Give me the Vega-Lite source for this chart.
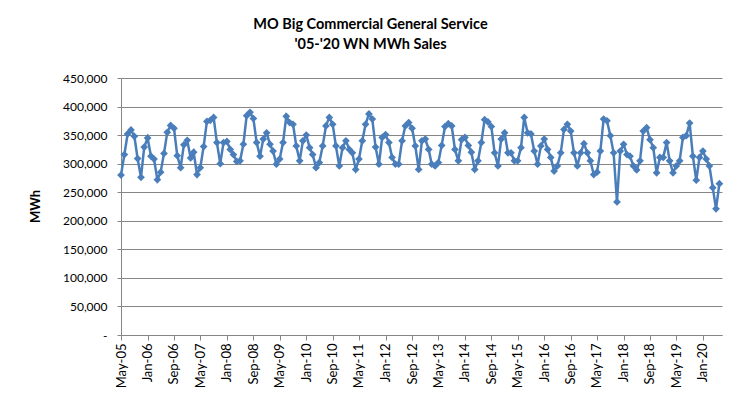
{
 "$schema": "https://vega.github.io/schema/vega-lite/v6.json",
 "autosize": "none",
 "width": 601,
 "height": 257,
 "padding": {"left": 121, "top": 78, "right": 8, "bottom": 67},
 "background": "white",
 "title": {"text": ["MO Big Commercial General Service", "'05-'20 WN MWh Sales"], "anchor": "middle", "dx": -51, "offset": 20, "font": "Lato", "fontSize": 14.5, "fontWeight": "bold", "color": "#000000", "lineHeight": 20},
 "config": {"view": {"stroke": null}, "font": "Lato"},
 "data": {"values": [
  {"date":"2005-05-01","mwh":280000},{"date":"2005-06-01","mwh":316000},{"date":"2005-07-01","mwh":352000},{"date":"2005-08-01","mwh":359000},{"date":"2005-09-01","mwh":348000},{"date":"2005-10-01","mwh":309000},{"date":"2005-11-01","mwh":276000},{"date":"2005-12-01","mwh":329000},
  {"date":"2006-01-01","mwh":345000},{"date":"2006-02-01","mwh":313000},{"date":"2006-03-01","mwh":308000},{"date":"2006-04-01","mwh":272000},{"date":"2006-05-01","mwh":285000},{"date":"2006-06-01","mwh":318000},{"date":"2006-07-01","mwh":355000},{"date":"2006-08-01","mwh":367000},{"date":"2006-09-01","mwh":362000},{"date":"2006-10-01","mwh":314000},{"date":"2006-11-01","mwh":293000},{"date":"2006-12-01","mwh":333000},
  {"date":"2007-01-01","mwh":341000},{"date":"2007-02-01","mwh":310000},{"date":"2007-03-01","mwh":320000},{"date":"2007-04-01","mwh":281000},{"date":"2007-05-01","mwh":293000},{"date":"2007-06-01","mwh":330000},{"date":"2007-07-01","mwh":374000},{"date":"2007-08-01","mwh":376000},{"date":"2007-09-01","mwh":381000},{"date":"2007-10-01","mwh":337000},{"date":"2007-11-01","mwh":300000},{"date":"2007-12-01","mwh":337000},
  {"date":"2008-01-01","mwh":339000},{"date":"2008-02-01","mwh":325000},{"date":"2008-03-01","mwh":316000},{"date":"2008-04-01","mwh":304000},{"date":"2008-05-01","mwh":305000},{"date":"2008-06-01","mwh":334000},{"date":"2008-07-01","mwh":384000},{"date":"2008-08-01","mwh":390000},{"date":"2008-09-01","mwh":379000},{"date":"2008-10-01","mwh":337000},{"date":"2008-11-01","mwh":313000},{"date":"2008-12-01","mwh":343000},
  {"date":"2009-01-01","mwh":354000},{"date":"2009-02-01","mwh":334000},{"date":"2009-03-01","mwh":322000},{"date":"2009-04-01","mwh":299000},{"date":"2009-05-01","mwh":308000},{"date":"2009-06-01","mwh":337000},{"date":"2009-07-01","mwh":383000},{"date":"2009-08-01","mwh":372000},{"date":"2009-09-01","mwh":369000},{"date":"2009-10-01","mwh":331000},{"date":"2009-11-01","mwh":305000},{"date":"2009-12-01","mwh":340000},
  {"date":"2010-01-01","mwh":350000},{"date":"2010-02-01","mwh":328000},{"date":"2010-03-01","mwh":316000},{"date":"2010-04-01","mwh":293000},{"date":"2010-05-01","mwh":302000},{"date":"2010-06-01","mwh":331000},{"date":"2010-07-01","mwh":366000},{"date":"2010-08-01","mwh":381000},{"date":"2010-09-01","mwh":369000},{"date":"2010-10-01","mwh":331000},{"date":"2010-11-01","mwh":296000},{"date":"2010-12-01","mwh":328000},
  {"date":"2011-01-01","mwh":340000},{"date":"2011-02-01","mwh":325000},{"date":"2011-03-01","mwh":319000},{"date":"2011-04-01","mwh":290000},{"date":"2011-05-01","mwh":308000},{"date":"2011-06-01","mwh":340000},{"date":"2011-07-01","mwh":369000},{"date":"2011-08-01","mwh":387000},{"date":"2011-09-01","mwh":378000},{"date":"2011-10-01","mwh":329000},{"date":"2011-11-01","mwh":299000},{"date":"2011-12-01","mwh":346000},
  {"date":"2012-01-01","mwh":351000},{"date":"2012-02-01","mwh":337000},{"date":"2012-03-01","mwh":311000},{"date":"2012-04-01","mwh":299000},{"date":"2012-05-01","mwh":299000},{"date":"2012-06-01","mwh":340000},{"date":"2012-07-01","mwh":366000},{"date":"2012-08-01","mwh":372000},{"date":"2012-09-01","mwh":362000},{"date":"2012-10-01","mwh":331000},{"date":"2012-11-01","mwh":290000},{"date":"2012-12-01","mwh":340000},
  {"date":"2013-01-01","mwh":343000},{"date":"2013-02-01","mwh":325000},{"date":"2013-03-01","mwh":299000},{"date":"2013-04-01","mwh":296000},{"date":"2013-05-01","mwh":302000},{"date":"2013-06-01","mwh":332000},{"date":"2013-07-01","mwh":365000},{"date":"2013-08-01","mwh":370000},{"date":"2013-09-01","mwh":366000},{"date":"2013-10-01","mwh":325000},{"date":"2013-11-01","mwh":305000},{"date":"2013-12-01","mwh":342000},
  {"date":"2014-01-01","mwh":346000},{"date":"2014-02-01","mwh":332000},{"date":"2014-03-01","mwh":320000},{"date":"2014-04-01","mwh":290000},{"date":"2014-05-01","mwh":305000},{"date":"2014-06-01","mwh":337000},{"date":"2014-07-01","mwh":377000},{"date":"2014-08-01","mwh":373000},{"date":"2014-09-01","mwh":365000},{"date":"2014-10-01","mwh":319000},{"date":"2014-11-01","mwh":296000},{"date":"2014-12-01","mwh":343000},
  {"date":"2015-01-01","mwh":354000},{"date":"2015-02-01","mwh":319000},{"date":"2015-03-01","mwh":319000},{"date":"2015-04-01","mwh":305000},{"date":"2015-05-01","mwh":305000},{"date":"2015-06-01","mwh":328000},{"date":"2015-07-01","mwh":381000},{"date":"2015-08-01","mwh":354000},{"date":"2015-09-01","mwh":352000},{"date":"2015-10-01","mwh":322000},{"date":"2015-11-01","mwh":299000},{"date":"2015-12-01","mwh":331000},
  {"date":"2016-01-01","mwh":343000},{"date":"2016-02-01","mwh":325000},{"date":"2016-03-01","mwh":311000},{"date":"2016-04-01","mwh":287000},{"date":"2016-05-01","mwh":296000},{"date":"2016-06-01","mwh":319000},{"date":"2016-07-01","mwh":360000},{"date":"2016-08-01","mwh":369000},{"date":"2016-09-01","mwh":357000},{"date":"2016-10-01","mwh":319000},{"date":"2016-11-01","mwh":296000},{"date":"2016-12-01","mwh":319000},
  {"date":"2017-01-01","mwh":335000},{"date":"2017-02-01","mwh":319000},{"date":"2017-03-01","mwh":305000},{"date":"2017-04-01","mwh":281000},{"date":"2017-05-01","mwh":285000},{"date":"2017-06-01","mwh":322000},{"date":"2017-07-01","mwh":378000},{"date":"2017-08-01","mwh":375000},{"date":"2017-09-01","mwh":349000},{"date":"2017-10-01","mwh":319000},{"date":"2017-11-01","mwh":233000},{"date":"2017-12-01","mwh":322000},
  {"date":"2018-01-01","mwh":334000},{"date":"2018-02-01","mwh":316000},{"date":"2018-03-01","mwh":313000},{"date":"2018-04-01","mwh":296000},{"date":"2018-05-01","mwh":289000},{"date":"2018-06-01","mwh":305000},{"date":"2018-07-01","mwh":357000},{"date":"2018-08-01","mwh":363000},{"date":"2018-09-01","mwh":342000},{"date":"2018-10-01","mwh":328000},{"date":"2018-11-01","mwh":284000},{"date":"2018-12-01","mwh":311000},
  {"date":"2019-01-01","mwh":311000},{"date":"2019-02-01","mwh":337000},{"date":"2019-03-01","mwh":305000},{"date":"2019-04-01","mwh":284000},{"date":"2019-05-01","mwh":296000},{"date":"2019-06-01","mwh":305000},{"date":"2019-07-01","mwh":346000},{"date":"2019-08-01","mwh":349000},{"date":"2019-09-01","mwh":371000},{"date":"2019-10-01","mwh":313000},{"date":"2019-11-01","mwh":271000},{"date":"2019-12-01","mwh":311000},
  {"date":"2020-01-01","mwh":322000},{"date":"2020-02-01","mwh":308000},{"date":"2020-03-01","mwh":296000},{"date":"2020-04-01","mwh":258000},{"date":"2020-05-01","mwh":221000},{"date":"2020-06-01","mwh":265000}
 ]},
 "mark": {"type": "line", "color": "#4A7EBB", "strokeWidth": 2.5, "point": {"shape": "diamond", "filled": true, "size": 60, "color": "#4A7EBB"}},
 "encoding": {
  "x": {"field": "date", "type": "temporal",
   "scale": {"type": "utc", "nice": false, "domain": [{"year": 2005, "month": 5, "date": 1, "utc": true}, {"year": 2020, "month": 6, "date": 25, "utc": true}]},
   "axis": {"values": [
     {"year": 2005, "month": 5, "date": 1, "utc": true},{"year": 2006, "month": 1, "date": 1, "utc": true},{"year": 2006, "month": 9, "date": 1, "utc": true},
     {"year": 2007, "month": 5, "date": 1, "utc": true},{"year": 2008, "month": 1, "date": 1, "utc": true},{"year": 2008, "month": 9, "date": 1, "utc": true},
     {"year": 2009, "month": 5, "date": 1, "utc": true},{"year": 2010, "month": 1, "date": 1, "utc": true},{"year": 2010, "month": 9, "date": 1, "utc": true},
     {"year": 2011, "month": 5, "date": 1, "utc": true},{"year": 2012, "month": 1, "date": 1, "utc": true},{"year": 2012, "month": 9, "date": 1, "utc": true},
     {"year": 2013, "month": 5, "date": 1, "utc": true},{"year": 2014, "month": 1, "date": 1, "utc": true},{"year": 2014, "month": 9, "date": 1, "utc": true},
     {"year": 2015, "month": 5, "date": 1, "utc": true},{"year": 2016, "month": 1, "date": 1, "utc": true},{"year": 2016, "month": 9, "date": 1, "utc": true},
     {"year": 2017, "month": 5, "date": 1, "utc": true},{"year": 2018, "month": 1, "date": 1, "utc": true},{"year": 2018, "month": 9, "date": 1, "utc": true},
     {"year": 2019, "month": 5, "date": 1, "utc": true},{"year": 2020, "month": 1, "date": 1, "utc": true}],
    "labelExpr": "utcFormat(datum.value, '%b-%y')",
    "labelAngle": -90, "labelAlign": "right", "labelBaseline": "middle",
    "labelFont": "Lato", "labelFontSize": 13, "labelColor": "#000000", "labelPadding": 3,
    "labelOverlap": false, "labelFlush": false, "labelBound": false,
    "tickSize": 5, "tickColor": "#868686", "domainColor": "#868686", "grid": false, "title": null}
  },
  "y": {"field": "mwh", "type": "quantitative",
   "scale": {"domain": [0, 450000], "nice": false},
   "axis": {"values": [0, 50000, 100000, 150000, 200000, 250000, 300000, 350000, 400000, 450000],
    "labelExpr": "datum.value == 0 ? '-' : format(datum.value, ',')",
    "labelFont": "Lato", "labelFontSize": 12, "labelColor": "#000000", "labelPadding": 10,
    "grid": true, "gridColor": "#868686", "gridWidth": 1,
    "tickSize": 4, "tickColor": "#868686", "domainColor": "#868686",
    "title": "MWh", "titleFont": "Lato", "titleFontSize": 13, "titleFontWeight": "bold", "titleColor": "#000000",
    "titleX": -86, "titleY": 128, "titleAngle": -90, "titleAlign": "center", "titleBaseline": "middle"}
  }
 }
}
